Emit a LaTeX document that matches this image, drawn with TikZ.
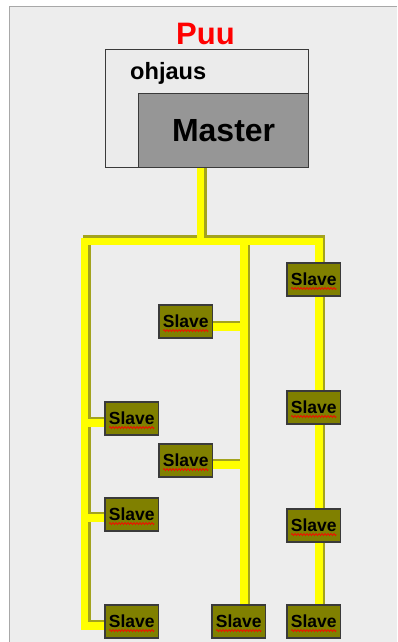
\documentclass[tikz,border=0pt]{standalone}
\usepackage{fontspec}
\setmainfont{Liberation Sans}
\usetikzlibrary{decorations.pathmorphing}

\definecolor{panel}{HTML}{EDEDED}
\definecolor{frameline}{HTML}{A8A8A8}
\definecolor{boxline}{HTML}{3A3A3A}
\definecolor{ctrlfill}{HTML}{EBEBEB}
\definecolor{masterfill}{HTML}{969696}
\definecolor{slavefill}{HTML}{808000}
\definecolor{busyellow}{HTML}{FFFF00}
\definecolor{busshade}{HTML}{A3A31E}

\tikzset{
  slavebox/.style={draw=boxline, line width=1.3pt, fill=slavefill,
    minimum width=53.5pt, minimum height=33pt, inner sep=0pt,
    font=\fontsize{17.5}{18}\selectfont\bfseries},
  busshadow/.style={draw=busshade, line width=7.5pt, line join=miter, line cap=rect,
    transform canvas={shift={(2.5pt,2.5pt)}}},
  busline/.style={draw=busyellow, line width=7.5pt, line join=miter, line cap=rect},
  squiggle/.style={draw=red, line width=0.7pt,
    decorate, decoration={zigzag, segment length=3pt, amplitude=1pt}}
}

\begin{document}
\begin{tikzpicture}[x=1pt, y=-1pt]
  \useasboundingbox (0,0) rectangle (397,642);
  \fill[white] (0,0) rectangle (397,642);
  % panel
  \fill[panel] (10,7) rectangle (397,642);
  \draw[frameline, line width=1.5pt] (9.5,642) -- (9.5,6.5) -- (397,6.5);

  % title
  \node[text=red, font=\fontsize{31}{32}\selectfont\bfseries] (title) at (205.5,34) {Puu};

  % junction points of the tree
  \coordinate (stemtop) at (200.5,167);
  \coordinate (stembot) at (200.5,241.5);
  \coordinate (busL) at (84.5,241.5);
  \coordinate (busM) at (244,241.5);
  \coordinate (busR) at (319,241.5);
  \coordinate (cornerL) at (84.5,626);
  \coordinate (jL1) at (84.5,423);
  \coordinate (jL2) at (84.5,518);
  \coordinate (jM1) at (244,327);
  \coordinate (jM2) at (244,465);

  % slaves (placed first so the lines can refer to them)
  \path
    node[slavebox] (R1) at (313.75,279.5) {}
    node[slavebox] (R2) at (313.75,407.5) {}
    node[slavebox] (R3) at (313.75,525.5) {}
    node[slavebox] (R4) at (313.75,621.5) {}
    node[slavebox] (M1) at (185.75,321.5) {}
    node[slavebox] (M2) at (185.75,460.5) {}
    node[slavebox] (M3) at (238.75,621.5) {}
    node[slavebox] (L1) at (131.75,418.5) {}
    node[slavebox] (L2) at (131.75,514.5) {}
    node[slavebox] (L3) at (131.75,621.5) {};

  % bus lines: shadow first, then yellow
  \foreach \sty in {busshadow, busline} {
    \draw[\sty] (stemtop) -- (stembot);
    \draw[\sty] (cornerL -| L3.west) -- (cornerL) -- (busL) -- (busR) -- (R4.north -| busR);
    \draw[\sty] (busM) -- (M3.north -| busM);
    \draw[\sty] (jL1) -- (jL1 -| L1.west);
    \draw[\sty] (jL2) -- (jL2 -| L2.west);
    \draw[\sty] (jM1) -- (jM1 -| M1.east);
    \draw[\sty] (jM2) -- (jM2 -| M2.east);
  }

  % control unit with master
  \node[draw=boxline, line width=1.2pt, fill=ctrlfill, minimum width=203pt, minimum height=118pt,
        inner sep=0pt, anchor=north west] (ohjaus) at (105,49) {};
  \node[draw=boxline, line width=1.2pt, fill=masterfill, minimum width=170pt, minimum height=74pt,
        inner sep=0pt, anchor=north west, font=\fontsize{32}{33}\selectfont\bfseries] (master) at (138,93) {Master};
  \node[font=\fontsize{23.6}{24}\selectfont\bfseries, anchor=base west, inner sep=0pt] (ohjauslabel) at (130,79.5) {ohjaus};

  % slaves redrawn on top of the lines, with their labels
  \foreach \s in {R1,R2,R3,R4,M1,M2,M3,L1,L2,L3} {
    \node[slavebox] (\s t) at (\s) {Slave};
    \draw[squiggle] ([shift={(-22.5,9)}]\s.center) -- ([shift={(22.5,9)}]\s.center);
  }
\end{tikzpicture}
\end{document}
